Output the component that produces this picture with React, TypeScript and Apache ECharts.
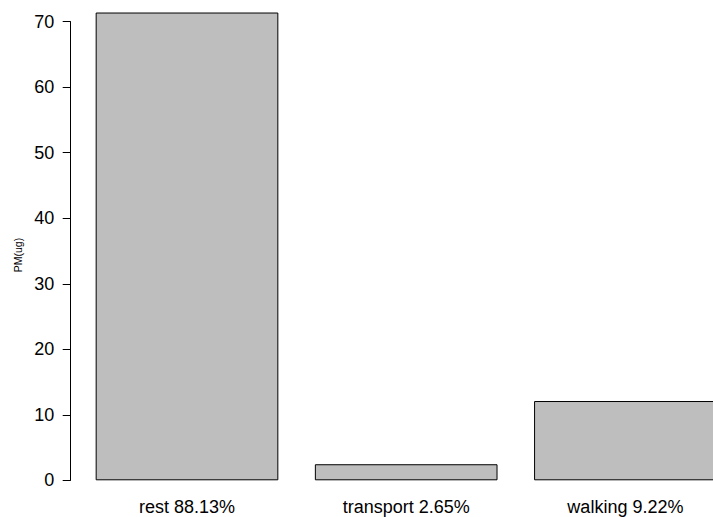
import React, { useEffect, useRef } from "react";
import * as echarts from "echarts";

const categories = ["rest 88.13%", "transport 2.65%", "walking 9.22%"];
const values = [71.4, 2.45, 12.1];
const yTicks = { min: 0, max: 70, interval: 10 };
const yLabel = "PM(ug)";

export default function App() {
  const ref = useRef<HTMLDivElement>(null);
  useEffect(() => {
    document.body.style.margin = "0";
    const chart = echarts.init(ref.current!, null, { renderer: "svg" });
    const font = "Liberation Sans, Arial, Helvetica, sans-serif";
    chart.setOption({
      animation: false,
      backgroundColor: "#ffffff",
      grid: {
        left: 77.4,
        top: 21.7,
        width: 657.6,
        height: 458.6,
        containLabel: false,
        outerBoundsMode: "none",
      },
      xAxis: {
        type: "category",
        data: categories,
        axisLine: { show: false },
        axisTick: { show: false },
        axisLabel: { color: "#000", fontSize: 18, fontFamily: font, margin: 17.5, interval: 0 },
        splitLine: { show: false },
      },
      yAxis: {
        type: "value",
        min: yTicks.min,
        max: yTicks.max,
        interval: yTicks.interval,
        offset: 6.7,
        axisLine: { show: true, lineStyle: { color: "#000", width: 1 } },
        axisTick: { show: true, length: 8, lineStyle: { color: "#000", width: 1 } },
        axisLabel: { color: "#000", fontSize: 18, fontFamily: font, margin: 16.4 },
        splitLine: { show: false },
      },
      graphic: [
        {
          type: "text",
          x: 17.5,
          y: 255,
          rotation: Math.PI / 2,
          style: {
            text: yLabel,
            fill: "#000",
            font: `10.5px ${font}`,
            textAlign: "center",
            textVerticalAlign: "middle",
          },
        },
      ],
      series: [
        {
          type: "bar",
          data: values,
          clip: false,
          barCategoryGap: "16.67%",
          itemStyle: { color: "#BEBEBE", borderColor: "#000", borderWidth: 1 },
        },
      ],
    });
    return () => chart.dispose();
  }, []);
  return <div ref={ref} style={{ width: 713, height: 517 }} />;
}
